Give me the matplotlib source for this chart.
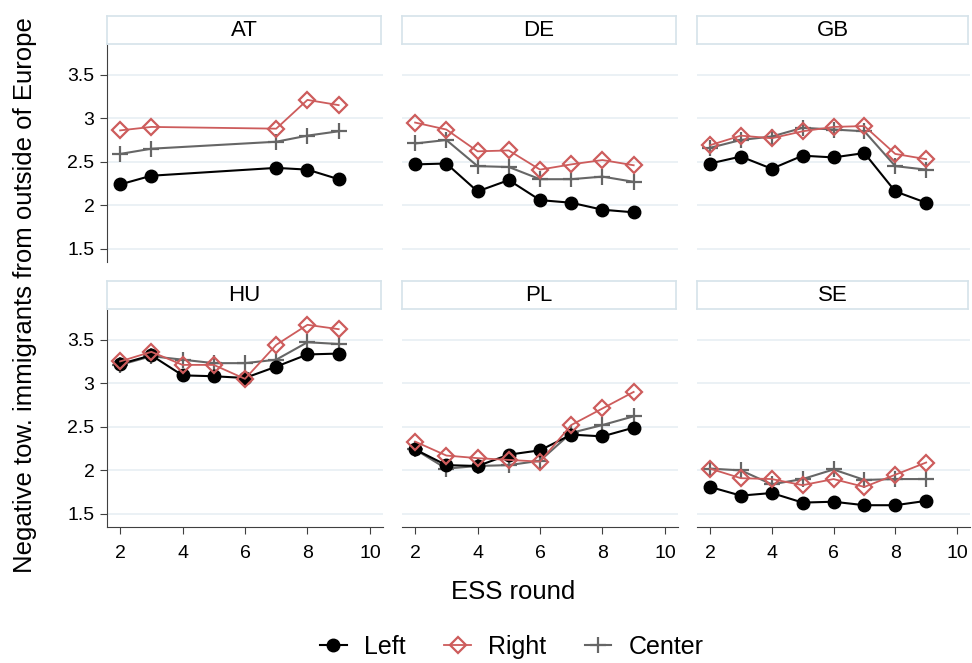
import matplotlib
matplotlib.use("Agg")
import matplotlib.pyplot as plt
from matplotlib.lines import Line2D
import numpy as np

plt.rcParams['font.family'] = ['Liberation Sans', 'DejaVu Sans']

# ESS rounds per country
rounds = [2, 3, 4, 5, 6, 7, 8, 9]
rounds_at = [2, 3, 7, 8, 9]
countries = ['AT', 'DE', 'GB', 'HU', 'PL', 'SE']

left_vals = {
    'AT': [2.24, 2.34, 2.43, 2.41, 2.30],
    'DE': [2.47, 2.48, 2.16, 2.29, 2.06, 2.03, 1.95, 1.92],
    'GB': [2.48, 2.56, 2.42, 2.57, 2.55, 2.60, 2.16, 2.03],
    'HU': [3.22, 3.32, 3.09, 3.08, 3.06, 3.19, 3.33, 3.34],
    'PL': [2.24, 2.06, 2.05, 2.18, 2.23, 2.41, 2.39, 2.49],
    'SE': [1.81, 1.71, 1.74, 1.63, 1.64, 1.60, 1.60, 1.65],
}
right_vals = {
    'AT': [2.86, 2.90, 2.88, 3.21, 3.15],
    'DE': [2.95, 2.87, 2.62, 2.63, 2.41, 2.47, 2.52, 2.46],
    'GB': [2.69, 2.80, 2.77, 2.85, 2.90, 2.91, 2.59, 2.53],
    'HU': [3.25, 3.36, 3.21, 3.21, 3.05, 3.44, 3.67, 3.62],
    'PL': [2.33, 2.17, 2.14, 2.12, 2.10, 2.52, 2.71, 2.90],
    'SE': [2.02, 1.91, 1.90, 1.83, 1.90, 1.81, 1.95, 2.09],
}
center_vals = {
    'AT': [2.59, 2.65, 2.73, 2.80, 2.85],
    'DE': [2.71, 2.75, 2.45, 2.44, 2.30, 2.30, 2.33, 2.27],
    'GB': [2.66, 2.75, 2.79, 2.89, 2.87, 2.85, 2.45, 2.41],
    'HU': [3.21, 3.31, 3.27, 3.23, 3.23, 3.27, 3.47, 3.45],
    'PL': [2.24, 2.02, 2.05, 2.06, 2.11, 2.43, 2.52, 2.62],
    'SE': [2.02, 2.00, 1.84, 1.90, 2.01, 1.89, 1.90, 1.90],
}

c_left = 'black'
c_right = '#cd5c5c'
c_center = '#666666'
grid_c = '#e8eff3'
strip_c = '#d6e3ea'
spine_c = '#404040'

W, H = 972, 663
fig = plt.figure(figsize=(W / 100, H / 100), dpi=100)

col_x = [107, 402, 697]
col_w = [276, 276, 273]
row_top = [45, 310]
ax_h = 217
strip_h = 29

for i, cc in enumerate(countries):
    r, c = divmod(i, 3)
    x0 = col_x[c]
    ytop = row_top[r]
    ax = fig.add_axes([x0 / W, (H - ytop - ax_h) / H, col_w[c] / W, ax_h / H])
    xs = rounds_at if cc == 'AT' else rounds

    for y in [1.5, 2, 2.5, 3, 3.5]:
        ax.axhline(y, color=grid_c, lw=1.2, zorder=0)

    ax.plot(xs, left_vals[cc], color=c_left, marker='o', ms=9, lw=1.5, zorder=3)
    ax.plot(xs, right_vals[cc], color=c_right, marker='D', ms=8.5, mfc='none',
            mec=c_right, mew=1.6, lw=1.3, zorder=4)
    ax.plot(xs, center_vals[cc], color=c_center, marker='+', ms=11, mew=1.6,
            lw=1.5, zorder=2)

    ax.set_xlim(1.58, 10.42)
    ax.set_ylim(1.35, 3.84)
    for s in ['top', 'right']:
        ax.spines[s].set_visible(False)
    ax.spines['left'].set_color(spine_c)
    ax.spines['bottom'].set_color(spine_c)

    ax.set_yticks([1.5, 2, 2.5, 3, 3.5])
    ax.set_yticklabels(['1.5', '2', '2.5', '3', '3.5'])
    ax.set_xticks([2, 4, 6, 8, 10])
    ax.tick_params(axis='both', direction='out', length=5, color=spine_c,
                   labelsize=14, pad=4)
    ax.tick_params(axis='x', pad=8)
    if c != 0:
        ax.spines['left'].set_visible(False)
        ax.tick_params(axis='y', left=False, labelleft=False)
    if r == 0:
        ax.spines['bottom'].set_visible(False)
        ax.tick_params(axis='x', bottom=False, labelbottom=False)

    # strip header
    sax = fig.add_axes([x0 / W, (H - ytop + 1) / H, (col_w[c] - 2) / W, (strip_h - 1) / H])
    sax.set_xticks([])
    sax.set_yticks([])
    for s in sax.spines.values():
        s.set_color(strip_c)
        s.set_linewidth(1.2)
    sax.text(0.5, 0.48, cc, ha='center', va='center', fontsize=16,
             transform=sax.transAxes)

fig.text(25 / W, (H - 295) / H, 'Negative tow. immigrants from outside of Europe',
         rotation=90, ha='center', va='center', fontsize=18.5)
fig.text(513 / W, (H - 592) / H, 'ESS round', ha='center', va='center', fontsize=18.5)

handles = [
    Line2D([], [], color=c_left, marker='o', ms=9, lw=1.5),
    Line2D([], [], color=c_right, marker='D', ms=8.5, mfc='none', mew=1.6, lw=1.3),
    Line2D([], [], color=c_center, marker='+', ms=11, mew=1.6, lw=1.5),
]
fig.legend(handles, ['Left', 'Right', 'Center'], loc='center',
           bbox_to_anchor=(512 / W, (H - 647) / H), ncol=3, frameon=False,
           fontsize=18, handlelength=1.05, columnspacing=1.55, handletextpad=0.7)

fig.savefig('out.png', dpi=100)
